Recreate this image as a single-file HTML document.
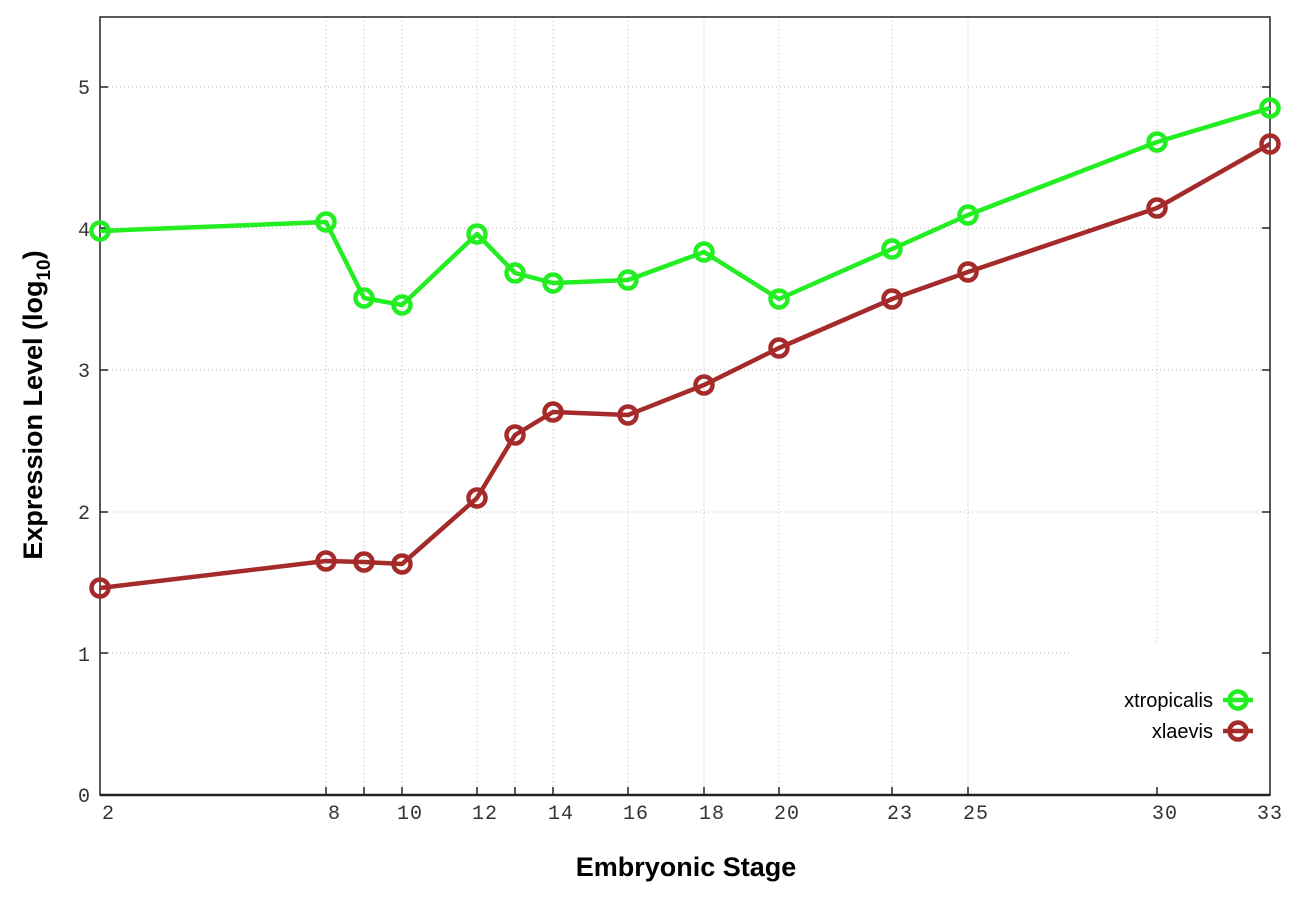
<!DOCTYPE html>
<html><head><meta charset="utf-8"><style>body{margin:0;background:#fff}svg{display:block}</style></head><body>
<svg width="1296" height="907" xmlns="http://www.w3.org/2000/svg">
<rect width="1296" height="907" fill="#fff"/>
<g stroke="#b8b8b8" stroke-width="1" stroke-dasharray="1,3">
<line x1="100" y1="87" x2="1270" y2="87"/><line x1="100" y1="228" x2="1270" y2="228"/><line x1="100" y1="370" x2="1270" y2="370"/><line x1="100" y1="512" x2="1270" y2="512"/><line x1="100" y1="653" x2="1270" y2="653"/>
<line x1="326" y1="17" x2="326" y2="795"/><line x1="364" y1="17" x2="364" y2="795"/><line x1="402" y1="17" x2="402" y2="795"/><line x1="477" y1="17" x2="477" y2="795"/><line x1="515" y1="17" x2="515" y2="795"/><line x1="553" y1="17" x2="553" y2="795"/><line x1="628" y1="17" x2="628" y2="795"/><line x1="704" y1="17" x2="704" y2="795"/><line x1="779" y1="17" x2="779" y2="795"/><line x1="892" y1="17" x2="892" y2="795"/><line x1="968" y1="17" x2="968" y2="795"/><line x1="1157" y1="17" x2="1157" y2="795"/>
</g>
<rect x="1072" y="643" width="197" height="151" fill="#fff"/>
<g stroke="#222" stroke-width="1.5">
<line x1="100" y1="87" x2="108" y2="87"/><line x1="100" y1="228" x2="108" y2="228"/><line x1="100" y1="370" x2="108" y2="370"/><line x1="100" y1="512" x2="108" y2="512"/><line x1="100" y1="653" x2="108" y2="653"/>
<line x1="1262" y1="87" x2="1270" y2="87"/><line x1="1262" y1="228" x2="1270" y2="228"/><line x1="1262" y1="370" x2="1270" y2="370"/><line x1="1262" y1="512" x2="1270" y2="512"/><line x1="1262" y1="653" x2="1270" y2="653"/>
<line x1="326" y1="787" x2="326" y2="795"/><line x1="364" y1="787" x2="364" y2="795"/><line x1="402" y1="787" x2="402" y2="795"/><line x1="477" y1="787" x2="477" y2="795"/><line x1="515" y1="787" x2="515" y2="795"/><line x1="553" y1="787" x2="553" y2="795"/><line x1="628" y1="787" x2="628" y2="795"/><line x1="704" y1="787" x2="704" y2="795"/><line x1="779" y1="787" x2="779" y2="795"/><line x1="892" y1="787" x2="892" y2="795"/><line x1="968" y1="787" x2="968" y2="795"/><line x1="1157" y1="787" x2="1157" y2="795"/>
</g>
<rect x="100" y="17" width="1170" height="778" fill="none" stroke="#222" stroke-width="1.5"/>
<line x1="100" y1="795" x2="1270" y2="795" stroke="#222" stroke-width="2.5"/>
<g font-family="Liberation Mono, monospace" font-size="20" fill="#333">
<g text-anchor="end"><text x="90" y="802">0</text><text x="90" y="661">1</text><text x="90" y="519">2</text><text x="90" y="377">3</text><text x="90" y="236">4</text><text x="90" y="94">5</text></g>
<g text-anchor="middle"><text x="108" y="819">2</text><text x="334" y="819">8</text><text x="410" y="819" letter-spacing="1">10</text><text x="485" y="819" letter-spacing="1">12</text><text x="561" y="819" letter-spacing="1">14</text><text x="636" y="819" letter-spacing="1">16</text><text x="712" y="819" letter-spacing="1">18</text><text x="787" y="819" letter-spacing="1">20</text><text x="900" y="819" letter-spacing="1">23</text><text x="976" y="819" letter-spacing="1">25</text><text x="1165" y="819" letter-spacing="1">30</text><text x="1270" y="819" letter-spacing="1">33</text></g>
</g>
<text x="686" y="876" text-anchor="middle" font-family="Liberation Sans, sans-serif" font-weight="bold" font-size="27" fill="#000">Embryonic Stage</text>
<text transform="translate(42,405) rotate(-90)" text-anchor="middle" font-family="Liberation Sans, sans-serif" font-weight="bold" font-size="27" fill="#000">Expression Level (log<tspan font-size="19" dy="8">10</tspan><tspan dy="-8">)</tspan></text>
<g fill="none" stroke="#22ee22" stroke-width="4.5" stroke-linejoin="round">
<polyline points="100,231 326,222 364,298 402,305 477,234 515,273 553,283 628,280 704,252 779,299 892,249 968,215 1157,142 1270,108"/>
<g><circle cx="100" cy="231" r="8.5"/><circle cx="326" cy="222" r="8.5"/><circle cx="364" cy="298" r="8.5"/><circle cx="402" cy="305" r="8.5"/><circle cx="477" cy="234" r="8.5"/><circle cx="515" cy="273" r="8.5"/><circle cx="553" cy="283" r="8.5"/><circle cx="628" cy="280" r="8.5"/><circle cx="704" cy="252" r="8.5"/><circle cx="779" cy="299" r="8.5"/><circle cx="892" cy="249" r="8.5"/><circle cx="968" cy="215" r="8.5"/><circle cx="1157" cy="142" r="8.5"/><circle cx="1270" cy="108" r="8.5"/></g>
<line x1="1223" y1="700" x2="1253" y2="700"/><circle cx="1238" cy="700" r="8.5"/>
</g>
<g fill="none" stroke="#a52a2a" stroke-width="4.5" stroke-linejoin="round">
<polyline points="100,588 326,561 364,562 402,564 477,498 515,435 553,412 628,415 704,385 779,348 892,299 968,272 1157,208 1270,144"/>
<g><circle cx="100" cy="588" r="8.5"/><circle cx="326" cy="561" r="8.5"/><circle cx="364" cy="562" r="8.5"/><circle cx="402" cy="564" r="8.5"/><circle cx="477" cy="498" r="8.5"/><circle cx="515" cy="435" r="8.5"/><circle cx="553" cy="412" r="8.5"/><circle cx="628" cy="415" r="8.5"/><circle cx="704" cy="385" r="8.5"/><circle cx="779" cy="348" r="8.5"/><circle cx="892" cy="299" r="8.5"/><circle cx="968" cy="272" r="8.5"/><circle cx="1157" cy="208" r="8.5"/><circle cx="1270" cy="144" r="8.5"/></g>
<line x1="1223" y1="731" x2="1253" y2="731"/><circle cx="1238" cy="731" r="8.5"/>
</g>
<g font-family="Liberation Sans, sans-serif" font-size="20" fill="#000" text-anchor="end">
<text x="1213" y="707">xtropicalis</text><text x="1213" y="738">xlaevis</text>
</g>
</svg>
</body></html>
